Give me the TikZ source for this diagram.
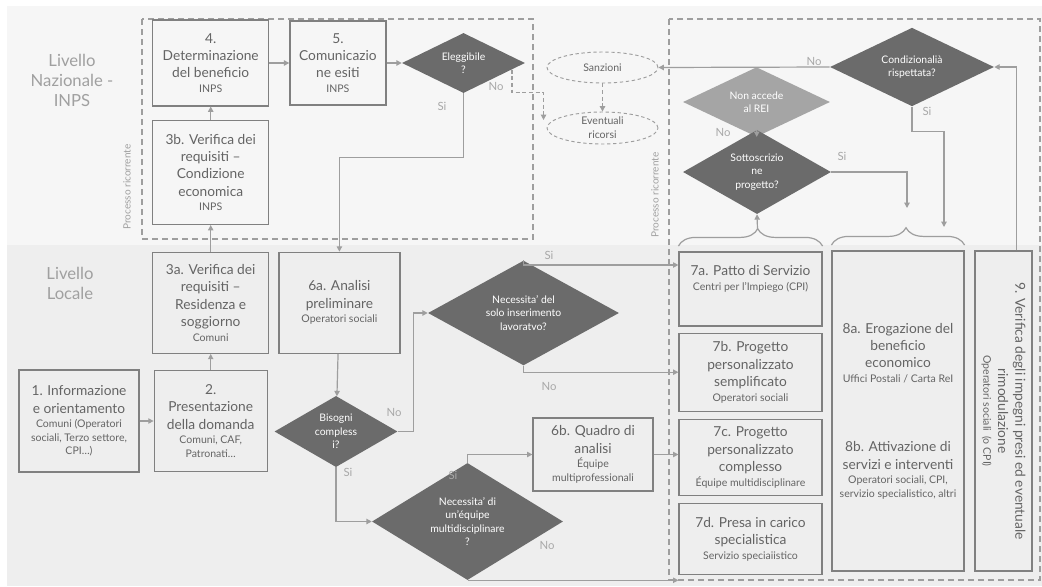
\documentclass[tikz,border=0pt]{standalone}
\usepackage{fontspec}
\setmainfont{Lato}
\usepackage{tikz}
\usetikzlibrary{shapes.geometric}
\usetikzlibrary{arrows.meta}
\usetikzlibrary{positioning}
\usetikzlibrary{decorations.pathreplacing}

\definecolor{bgtop}{HTML}{F6F6F6}
\definecolor{bgbot}{HTML}{EEEEEE}
\definecolor{boxgray}{HTML}{808080}
\definecolor{txtgray}{HTML}{646464}
\definecolor{lvlgray}{HTML}{A0A0A0}
\definecolor{diadark}{HTML}{6B6B6B}
\definecolor{dialight}{HTML}{A5A5A5}
\definecolor{arrgray}{HTML}{9E9E9E}
\definecolor{labgray}{HTML}{A8A8A8}

\newcommand{\mainf}{\fontsize{10.3}{13}\selectfont}
\newcommand{\subf}{\fontsize{7.9}{10.5}\selectfont}
\newcommand{\diaf}{\fontsize{7.8}{10}\selectfont}
\newcommand{\labf}{\fontsize{8.5}{10}\selectfont}
\newcommand{\lvlf}{\fontsize{12.5}{15}\selectfont}
\newcommand{\procf}{\fontsize{7.5}{9}\selectfont}

\tikzset{
  box/.style={draw=boxgray, line width=0.9pt, align=center, text=txtgray, font=\mainf, inner sep=1pt},
  dia/.style={diamond, fill=diadark, text=white, font=\diaf, align=center, inner sep=-1pt},
  oval/.style={ellipse, draw=arrgray, line width=0.7pt, dash pattern=on 2.5pt off 2pt, text=txtgray, font=\subf, align=center, inner sep=-1pt},
  lab/.style={text=labgray, font=\labf, inner sep=0pt},
  lvl/.style={text=lvlgray, font=\lvlf, align=center},
  proc/.style={text=lvlgray, font=\procf, rotate=90},
  dframe/.style={draw=arrgray, line width=0.9pt, dash pattern=on 4.5pt off 3pt},
  conn/.style={draw=arrgray, line width=0.9pt, ->},
  brc/.style={draw=arrgray, line width=0.9pt, decorate, decoration={brace, amplitude=13pt, aspect=#1}},
  >={Triangle[length=4pt,width=4pt]}
}

\begin{document}
\begin{tikzpicture}[x=0.75pt, y=-0.75pt]
  % sfondo
  \fill[white] (0,0) rectangle (1042,586);
  \fill[bgtop] (7,6) rectangle (1042,245);
  \fill[bgbot] (7,245) rectangle (1042,586);
  \draw[dframe] (142,19) rectangle (533,239);
  \draw[dframe] (669,19) rectangle (1040,580);

  \node (naz) [lvl] at (72,80) {Livello\\Nazionale -\\INPS};
  \node (loc) [lvl] at (70,283) {Livello\\Locale};
  \node (proc1) [proc] at (127,187) {Processo ricorrente};
  \node (proc2) [proc] at (655,195) {Processo ricorrente};

  % colonna sinistra
  \node (b1) [box, minimum width=90pt, minimum height=76.5pt] at (79,421)
    {1. Informazione\\e orientamento\\[-2pt]\subf Comuni (Operatori\\[-3pt]\subf sociali, Terzo settore,\\[-3pt]\subf CPI…)};
  \node (b2) [box, minimum width=84.75pt, minimum height=75.75pt, right=10.5pt of b1]
    {2.\\Presentazione\\della domanda\\[-2pt]\subf Comuni, CAF,\\[-3pt]\subf Patronati…};
  \node (b3a) [box, minimum width=87pt, minimum height=75.75pt, above=12pt of b2]
    {3a. Verifica dei\\requisiti –\\Residenza e\\soggiorno\\[-2pt]\subf Comuni};
  \node (b3b) [box, minimum width=87pt, minimum height=78pt, above=20pt of b3a]
    {3b. Verifica dei\\requisiti –\\Condizione\\economica\\[-2pt]\subf INPS};
  \node (b4) [box, minimum width=87pt, minimum height=64.5pt, above=10pt of b3b]
    {4.\\Determinazione\\del beneficio\\[-2pt]\subf INPS};
  \node (b5) [box, minimum width=72pt, minimum height=63pt, right=15pt of b4]
    {5.\\Comunicazio\\ne esiti\\[-2pt]\subf INPS};
  \node (b6a) [box, minimum width=90.75pt, minimum height=75.75pt, right=6.75pt of b3a]
    {6a. Analisi\\preliminare\\[-2pt]\subf Operatori sociali};
  \node (b6b) [box, minimum width=90pt, minimum height=54.75pt] at (593,454.5)
    {6b. Quadro di\\analisi\\[-2pt]\subf Équipe\\[-3pt]\subf multiprofessionali};

  % decisioni
  \node (eleg) [dia, minimum width=92.25pt, minimum height=45pt] at (463.5,63) {Eleggibile\\?};
  \node (bis) [dia, minimum width=92.25pt, minimum height=38.25pt] at (336,431.5) {Bisogni\\compless\\i?};
  \node (nec1) [dia, minimum width=143.25pt, minimum height=63pt] at (523.5,313)
    {Necessita’ del\\solo inserimento\\lavoratvo?};
  \node (nec2) [dia, minimum width=143.25pt, minimum height=56.25pt] at (467.5,521.5)
    {Necessita’ di\\un’équipe\\multidisciplinare\\?};
  \node (sanz) [oval, minimum width=83.25pt, minimum height=23.25pt] at (602.5,67.5) {Sanzioni};
  \node (ric) [oval, minimum width=83.25pt, minimum height=24pt] at (602.5,128) {Eventuali\\ricorsi};

  % colonna destra
  \node (b7a) [box, minimum width=107.25pt, minimum height=55.5pt] at (750.5,289)
    {7a. Patto di Servizio\\[-2pt]\subf Centri per l'Impiego (CPI)\\[4pt]};
  \node (b7b) [box, minimum width=107.25pt, minimum height=58.5pt, below=4.5pt of b7a]
    {7b. Progetto\\personalizzato\\semplificato\\[-2pt]\subf Operatori sociali};
  \node (b7c) [box, minimum width=107.25pt, minimum height=57pt, below=5.25pt of b7b]
    {7c. Progetto\\personalizzato\\complesso\\[-2pt]\subf Équipe multidisciplinare};
  \node (b7d) [box, minimum width=107.25pt, minimum height=53.25pt, below=5.25pt of b7c]
    {7d. Presa in carico\\specialistica\\[-2pt]\subf Servizio speciaiistico};
  \node (b8) [box, minimum width=99pt, minimum height=240pt] at (898,411)
    {8a. Erogazione del\\beneficio\\economico\\[-2pt]\subf Uffici Postali / Carta ReI\\[39pt]
     8b. Attivazione di\\servizi e interventi\\[-2pt]\subf Operatori sociali, CPI,\\[-3pt]\subf servizio specialistico, altri};
  \node (b9) [box, rotate=-90, minimum width=240pt, minimum height=42.75pt] at (1003.5,411)
    {9. Verifica degli impegni presi ed eventuale\\rimodulazione\\[-2pt]\subf Operatori sociali\ \ (o CPI)};
  \node (cond) [dia, minimum width=123pt, minimum height=48pt] at (912,67) {Condizionalià\\rispettata?};
  \node (nonacc) [dia, fill=dialight, minimum width=110.25pt, minimum height=36pt] at (756.5,102) {Non accede\\al REI};
  \node (sott) [dia, minimum width=111pt, minimum height=45pt] at (757,172) {Sottoscrizio\\ne\\progetto?};

  \draw[brc=0.55] ([yshift=4pt]b7a.north west) -- ([yshift=4pt]b7a.north east);
  \draw[brc=0.56] ([yshift=4pt]b8.north west) -- ([yshift=4pt]b8.north east);
  \coordinate (c7top) at (757.5,229);
  \coordinate (c8top) at (907,208);
  \coordinate (c8in) at (944,227);
  \coordinate (ricin) at ([xshift=-2.25pt,yshift=6pt]ric.west);

  \draw[conn] (b1) -- (b2);
  \draw[conn] (b2) -- (b3a);
  \draw[conn] (b3a) -- (b3b);
  \draw[conn] (b3b) -- (b4);
  \draw[conn] (b4.east |- eleg) -- (b5.west |- eleg);
  \draw[conn] (b5.east |- eleg) -- (eleg);
  \draw[conn] (eleg.south) -- ++(0,64) -| (b6a.north);
  \draw[conn, dash pattern=on 3pt off 2pt] ([xshift=-10pt,yshift=-5pt]eleg.east) -- ++(0,23) -| (ricin);
  \draw[conn, dash pattern=on 3pt off 2pt] (sanz) -- (ric);
  \draw[conn] (b6a) -- (bis);
  \draw[conn] (bis.east) -- ++(16,0) |- (nec1.west);
  \draw[conn] (bis.south) |- (nec2.west);
  \draw[conn] (nec1.north) |- ([yshift=18pt]b7a.west);
  \draw[conn] (nec1.south) |- (b7b.west);
  \draw[conn] (nec2.north) |- (b6b.west);
  \draw[conn] (b6b.east) -- (b6b.east -| b7c.west);
  \draw[conn] (nec2.south) -- (nec2.south -| b7d.west);
  \draw[conn] (c7top) -- (sott.south);
  \draw[conn] (sott) -- (nonacc);
  \draw[conn] (sott.east) -| (c8top);
  \draw[conn] (cond.south) -- ++(0,25) -| (c8in);
  \draw[conn] (cond.west) -- (sanz.east);
  \draw[conn] ([xshift=10pt]b9.west) |- (cond.east);

  % etichette
  \node (eleNo) [lab] at (496,86) {No};
  \node (eleSi) [lab] at (442,106) {Si};
  \node (bisNo) [lab] at (394,412) {No};
  \node (bisSi) [lab] at (348,472) {Si};
  \node (nec1Si) [lab] at (549,255) {Si};
  \node (nec1No) [lab] at (549,386) {No};
  \node (nec2Si) [lab] at (453,475) {Si};
  \node (nec2No) [lab] at (547,545) {No};
  \node (condNo) [lab] at (814,61) {No};
  \node (condSi) [lab] at (927,111) {Si};
  \node (sottNo) [lab] at (723,132) {No};
  \node (sottSi) [lab] at (842,156) {Si};
\end{tikzpicture}
\end{document}
